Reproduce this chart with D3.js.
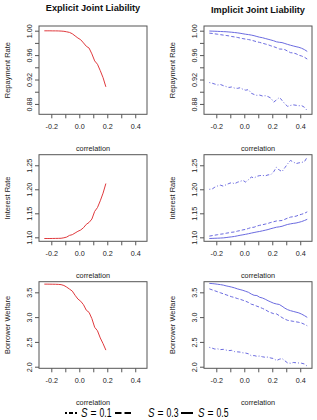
<!DOCTYPE html>
<html>
<head>
<meta charset="utf-8">
<script src="https://cdn.jsdelivr.net/npm/d3@7"></script>
<style>
  body { margin: 0; background: #fff; }
  svg text { font-family: "Liberation Sans", Arial, sans-serif; }
</style>
</head>
<body>
<div id="chart-container"></div>
<script>
// correlation grid
const xLeft = [-0.25, -0.23, -0.21, -0.19, -0.17, -0.15, -0.13, -0.11, -0.09, -0.07, -0.05, -0.03,
  -0.01, 0.01, 0.03, 0.05, 0.07, 0.09, 0.11, 0.13, 0.15, 0.17, 0.19];
const xRight = [-0.25, -0.23, -0.21, -0.19, -0.17, -0.15, -0.13, -0.11, -0.09, -0.07, -0.05, -0.03,
  -0.01, 0.01, 0.03, 0.05, 0.07, 0.09, 0.11, 0.13, 0.15, 0.17, 0.19, 0.21, 0.23, 0.25,
  0.27, 0.29, 0.31, 0.33, 0.35, 0.37, 0.39, 0.41, 0.43, 0.45];

// explicit joint liability
const explicitRepay = [0.9998, 0.9998, 0.9998, 0.9997, 0.9997, 0.9996, 0.9994, 0.9990, 0.9982, 0.9972,
  0.9950, 0.9915, 0.9880, 0.9852, 0.9800, 0.9745, 0.9715, 0.9620, 0.9505, 0.9450, 0.9345, 0.9230, 0.9080];
const explicitRate = [1.0975, 1.0975, 1.0975, 1.0976, 1.0977, 1.0978, 1.0980, 1.0990, 1.1005, 1.1040,
  1.1055, 1.1090, 1.1125, 1.1152, 1.1200, 1.1270, 1.1310, 1.1380, 1.1540, 1.1620, 1.1760, 1.1920, 1.2120];
const explicitWelfare = [3.665, 3.665, 3.664, 3.663, 3.662, 3.660, 3.655, 3.638, 3.605, 3.565,
  3.525, 3.440, 3.365, 3.320, 3.250, 3.140, 3.095, 2.970, 2.795, 2.725, 2.580, 2.465, 2.335];

// implicit joint liability, S = 0.1 / 0.3 / 0.5
const implicitRepayS1 = [0.9150, 0.9140, 0.9125, 0.9110, 0.9118, 0.9100, 0.9085, 0.9070, 0.9078, 0.9060,
  0.9055, 0.9065, 0.9040, 0.9025, 0.9035, 0.8975, 0.8955, 0.8940, 0.8945, 0.8930, 0.8935, 0.8920,
  0.8895, 0.8830, 0.8865, 0.8905, 0.8860, 0.8800, 0.8760, 0.8775, 0.8785, 0.8778, 0.8770, 0.8772,
  0.8745, 0.8690];
const implicitRepayS3 = [0.9960, 0.9955, 0.9948, 0.9942, 0.9935, 0.9928, 0.9922, 0.9915, 0.9905, 0.9898,
  0.9890, 0.9880, 0.9870, 0.9862, 0.9855, 0.9845, 0.9832, 0.9818, 0.9808, 0.9795, 0.9782, 0.9770,
  0.9752, 0.9738, 0.9722, 0.9700, 0.9698, 0.9690, 0.9665, 0.9640, 0.9635, 0.9622, 0.9598, 0.9585,
  0.9565, 0.9535];
const implicitRepayS5 = [0.9995, 0.9993, 0.9991, 0.9989, 0.9987, 0.9985, 0.9983, 0.9979, 0.9975, 0.9970,
  0.9965, 0.9958, 0.9950, 0.9942, 0.9936, 0.9928, 0.9918, 0.9905, 0.9893, 0.9885, 0.9872, 0.9860,
  0.9848, 0.9835, 0.9818, 0.9810, 0.9805, 0.9790, 0.9775, 0.9762, 0.9750, 0.9738, 0.9728, 0.9712,
  0.9690, 0.9660];

const implicitRateS1 = [1.2000, 1.2005, 1.2045, 1.2070, 1.2085, 1.2065, 1.2095, 1.2120, 1.2140, 1.2115,
  1.2145, 1.2165, 1.2185, 1.2150, 1.2200, 1.2255, 1.2235, 1.2270, 1.2285, 1.2290, 1.2280, 1.2300,
  1.2305, 1.2365, 1.2460, 1.2400, 1.2370, 1.2450, 1.2530, 1.2600, 1.2570, 1.2535, 1.2550, 1.2560,
  1.2575, 1.2670];
const implicitRateS3 = [1.1025, 1.1035, 1.1045, 1.1055, 1.1065, 1.1072, 1.1085, 1.1095, 1.1105, 1.1112,
  1.1128, 1.1140, 1.1155, 1.1165, 1.1185, 1.1205, 1.1210, 1.1235, 1.1250, 1.1262, 1.1275, 1.1290,
  1.1310, 1.1325, 1.1340, 1.1345, 1.1350, 1.1375, 1.1400, 1.1420, 1.1430, 1.1440, 1.1465, 1.1480,
  1.1500, 1.1530];
const implicitRateS5 = [1.0975, 1.0977, 1.0980, 1.0982, 1.0985, 1.0988, 1.0995, 1.1003, 1.1010, 1.1018,
  1.1030, 1.1042, 1.1052, 1.1063, 1.1075, 1.1088, 1.1100, 1.1112, 1.1122, 1.1135, 1.1148, 1.1162,
  1.1180, 1.1195, 1.1210, 1.1218, 1.1230, 1.1250, 1.1268, 1.1280, 1.1290, 1.1298, 1.1312, 1.1328,
  1.1350, 1.1375];

const implicitWelfareS1 = [2.390, 2.375, 2.355, 2.360, 2.345, 2.350, 2.335, 2.325, 2.330, 2.305,
  2.300, 2.295, 2.280, 2.275, 2.260, 2.220, 2.225, 2.210, 2.215, 2.200, 2.190, 2.195,
  2.175, 2.165, 2.125, 2.150, 2.165, 2.120, 2.075, 2.070, 2.085, 2.080, 2.075, 2.070,
  2.055, 2.010];
const implicitWelfareS3 = [3.570, 3.550, 3.530, 3.510, 3.490, 3.470, 3.450, 3.430, 3.410, 3.395,
  3.375, 3.360, 3.340, 3.320, 3.295, 3.260, 3.245, 3.220, 3.200, 3.175, 3.150, 3.115,
  3.090, 3.070, 3.065, 3.030, 2.990, 2.960, 2.935, 2.925, 2.915, 2.905, 2.895, 2.880,
  2.855, 2.825];
const implicitWelfareS5 = [3.680, 3.676, 3.670, 3.662, 3.655, 3.645, 3.630, 3.618, 3.605, 3.590,
  3.570, 3.555, 3.540, 3.520, 3.500, 3.465, 3.440, 3.435, 3.400, 3.385, 3.360, 3.330,
  3.305, 3.280, 3.265, 3.255, 3.220, 3.180, 3.150, 3.130, 3.115, 3.100, 3.085, 3.060,
  3.030, 2.995];

// labels and ticks
const columnTitles = ["Explicit Joint Liability", "Implicit Joint Liability"];
const rowLabels = ["Repayment Rate", "Interest Rate", "Borrower Welfare"];
const xLabel = "correlation";
const xTicks = [-0.2, -0.1, 0, 0.1, 0.2, 0.3, 0.4];
const xTickLabels = [-0.2, 0, 0.2, 0.4];
const repayTicks = [0.88, 0.90, 0.92, 0.94, 0.96, 0.98, 1.00];
const repayTickLabels = [0.88, 0.92, 0.96, 1.00];
const rateTicks = [1.10, 1.15, 1.20, 1.25];
const welfareTicks = [2.0, 2.5, 3.0, 3.5];
const legendValues = ["0.1", "0.3", "0.5"];

const width = 317;
const height = 420;
const red = "#e03a3e";
const blue = "#6b6be0";
const dashes = { dotdash: "1,2,3.5,2", dashed: "3.5,2", solid: null };

const cols = [{ left: 39, right: 147 }, { left: 204, right: 312 }];
const rows = [
  { top: 26, bottom: 114.3, domain: [0.863, 1.0077], ticks: repayTicks, labels: repayTickLabels, dec: 2 },
  { top: 154.7, bottom: 241.3, domain: [1.0917, 1.272], ticks: rateTicks, labels: rateTicks, dec: 2 },
  { top: 281.7, bottom: 368.3, domain: [1.968, 3.714], ticks: welfareTicks, labels: welfareTicks, dec: 1 }
];

const panels = [
  [
    [{ x: xLeft, y: explicitRepay, color: red, dash: "solid" }],
    [{ x: xRight, y: implicitRepayS1, color: blue, dash: "dotdash" },
     { x: xRight, y: implicitRepayS3, color: blue, dash: "dashed" },
     { x: xRight, y: implicitRepayS5, color: blue, dash: "solid" }]
  ],
  [
    [{ x: xLeft, y: explicitRate, color: red, dash: "solid" }],
    [{ x: xRight, y: implicitRateS1, color: blue, dash: "dotdash" },
     { x: xRight, y: implicitRateS3, color: blue, dash: "dashed" },
     { x: xRight, y: implicitRateS5, color: blue, dash: "solid" }]
  ],
  [
    [{ x: xLeft, y: explicitWelfare, color: red, dash: "solid" }],
    [{ x: xRight, y: implicitWelfareS1, color: blue, dash: "dotdash" },
     { x: xRight, y: implicitWelfareS3, color: blue, dash: "dashed" },
     { x: xRight, y: implicitWelfareS5, color: blue, dash: "solid" }]
  ]
];

const svg = d3
  .select("#chart-container")
  .append("svg")
  .attr("width", width)
  .attr("height", height);

function hasLabel(list, d) {
  return list.some((l) => Math.abs(l - d) < 1e-9);
}

function drawPanel(r, c) {
  const row = rows[r];
  const col = cols[c];
  const x = d3.scaleLinear([-0.288, 0.484], [col.left, col.right]);
  const y = d3.scaleLinear(row.domain, [row.bottom, row.top]);

  const g = svg.append("g");

  g.append("g")
    .attr("transform", `translate(0,${row.bottom})`)
    .call(
      d3.axisBottom(x)
        .tickValues(xTicks)
        .tickSize(4)
        .tickPadding(5.5)
        .tickFormat((d) => (hasLabel(xTickLabels, d) ? d.toFixed(1) : ""))
    )
    .call((a) => a.select(".domain").remove())
    .call((a) => a.selectAll(".tick line").attr("stroke", "#555"))
    .call((a) => a.selectAll(".tick text").attr("font-size", 7.2).attr("fill", "#222"));

  g.append("g")
    .attr("transform", `translate(${col.left},0)`)
    .call(
      d3.axisLeft(y)
        .tickValues(row.ticks)
        .tickSize(4)
        .tickFormat((d) => (hasLabel(row.labels, d) ? d.toFixed(row.dec) : ""))
    )
    .call((a) => a.select(".domain").remove())
    .call((a) => a.selectAll(".tick line").attr("stroke", "#555"))
    .call((a) =>
      a.selectAll(".tick text")
        .attr("x", null)
        .attr("dy", null)
        .attr("text-anchor", "middle")
        .attr("transform", "translate(-7.5,0) rotate(-90)")
        .attr("font-size", 7.2)
        .attr("fill", "#222")
    );

  const line = d3.line().x((d) => x(d[0])).y((d) => y(d[1]));

  panels[r][c].forEach((s) => {
    g.append("path")
      .attr("fill", "none")
      .attr("stroke", s.color)
      .attr("stroke-width", 1)
      .attr("stroke-dasharray", dashes[s.dash])
      .attr("d", line(d3.zip(s.x, s.y)));
  });

  g.append("rect")
    .attr("x", col.left)
    .attr("y", row.top)
    .attr("width", col.right - col.left)
    .attr("height", row.bottom - row.top)
    .attr("fill", "none")
    .attr("stroke", "#555")
    .attr("stroke-width", 1);

  g.append("text")
    .attr("x", (col.left + col.right) / 2)
    .attr("y", row.bottom + 36.5)
    .attr("text-anchor", "middle")
    .attr("font-size", 7.3)
    .attr("fill", "#222")
    .text(xLabel);

  g.append("text")
    .attr("text-anchor", "middle")
    .attr("transform", `translate(${col.left - 29},${(row.top + row.bottom) / 2}) rotate(-90)`)
    .attr("font-size", 7.5)
    .attr("fill", "#222")
    .text(rowLabels[r]);
}

for (let r = 0; r < 3; r++) {
  for (let c = 0; c < 2; c++) drawPanel(r, c);
}

// column titles
svg.append("text")
  .attr("x", (cols[0].left + cols[0].right) / 2)
  .attr("y", 11)
  .attr("text-anchor", "middle")
  .attr("font-size", 9.2)
  .attr("font-weight", "bold")
  .attr("fill", "#111")
  .text(columnTitles[0]);

svg.append("text")
  .attr("x", (cols[1].left + cols[1].right) / 2)
  .attr("y", 13)
  .attr("text-anchor", "middle")
  .attr("font-size", 9.2)
  .attr("font-weight", "bold")
  .attr("fill", "#111")
  .text(columnTitles[1]);

// legend
const legendItems = [
  { dash: "dotdash", x0: 65, x1: 77, sx: 81 },
  { dash: "dashed", x0: 115, x1: 131, sx: 148 },
  { dash: "solid", x0: 181, x1: 193, sx: 198 }
];
const legendDash = { dotdash: "2,2,4,2", dashed: "6.5,3", solid: null };
const legendBase = 416.5;

const legend = svg.append("g").attr("class", "legend");

legendItems.forEach((item, i) => {
  legend.append("line")
    .attr("x1", item.x0)
    .attr("x2", item.x1)
    .attr("y1", legendBase - 3.5)
    .attr("y2", legendBase - 3.5)
    .attr("stroke", "#000")
    .attr("stroke-width", 2)
    .attr("stroke-dasharray", legendDash[item.dash]);

  legend.append("text")
    .attr("x", item.sx)
    .attr("y", legendBase)
    .attr("font-family", "'Liberation Serif', 'DejaVu Serif', serif")
    .attr("font-style", "italic")
    .attr("font-size", 12)
    .attr("textLength", 6.5)
    .attr("lengthAdjust", "spacingAndGlyphs")
    .text("S");

  legend.append("text")
    .attr("x", item.sx + 9.5)
    .attr("y", legendBase)
    .attr("font-family", "'Liberation Serif', 'DejaVu Serif', serif")
    .attr("font-size", 12)
    .attr("textLength", 6)
    .attr("lengthAdjust", "spacingAndGlyphs")
    .text("=");

  legend.append("text")
    .attr("x", item.sx + 18.5)
    .attr("y", legendBase)
    .attr("font-family", "'Liberation Serif', 'DejaVu Serif', serif")
    .attr("font-size", 12)
    .attr("textLength", 12)
    .attr("lengthAdjust", "spacingAndGlyphs")
    .text(legendValues[i]);
});
</script>
</body>
</html>
